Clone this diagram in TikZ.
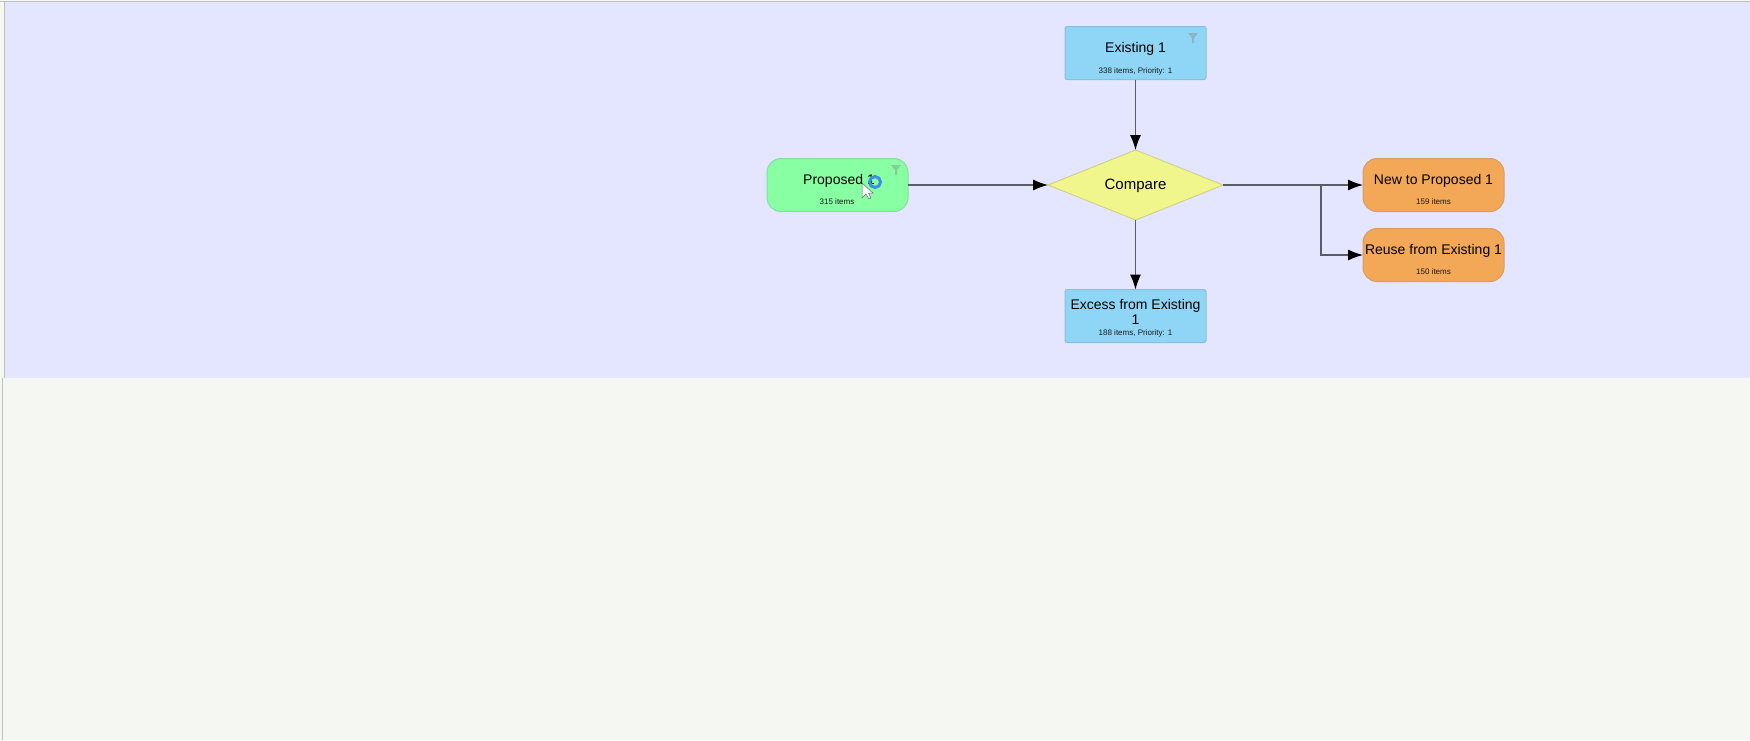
\documentclass[tikz,border=0pt]{standalone}
\usepackage{fontspec}
\setmainfont{Liberation Sans}
\usetikzlibrary{shapes.geometric}
\usetikzlibrary{arrows.meta}
\definecolor{bandlilac}{HTML}{E4E6FF}
\definecolor{pagegrey}{HTML}{F5F7F2}
\definecolor{existblue}{HTML}{8FD6F6}
\definecolor{propgreen}{HTML}{88FFA3}
\definecolor{outorange}{HTML}{F3A857}
\definecolor{cmpyellow}{HTML}{F1F68C}
\definecolor{flowgrey}{HTML}{5A5D66}
\definecolor{spinblue}{HTML}{3E8FE3}
\tikzset{
  titletext/.style={font=\fontsize{14}{15}\selectfont},
  subtext/.style={font=\fontsize{8}{9}\selectfont, text=black!90},
  databox/.style={draw=#1!75!gray, fill=#1, line width=1pt, outer sep=0pt, minimum width=141pt, minimum height=53pt, inner sep=0pt},
  existbox/.style={databox=existblue, rounded corners=2pt},
  roundbox/.style={databox=#1, rounded corners=14pt},
  flow/.style={draw=flowgrey, line width=1.1pt, -{Latex[length=15pt,width=11pt,color=black]}},
  funnel/.style={fill=#1!60!gray, draw=none},
}
\begin{document}
\begin{tikzpicture}[x=1pt,y=-1pt]
  \useasboundingbox (0,0) rectangle (1750,740);
  \fill[pagegrey] (0,0) rectangle (1750,740);
  \fill[bandlilac] (5,2) rectangle (1750,378);
  \draw[gray!50, line width=1pt] (0,1) -- (1750,1);
  \draw[gray!50, line width=1pt] (4.5,2) -- (4.5,378);
  \draw[gray!50, line width=1pt] (2.5,378) -- (2.5,740);

  \node[existbox] (existing) at (1135.5,53) {};
  \node[roundbox=propgreen] (proposed) at (837.5,185) {};
  \node[diamond, aspect=2.5, draw=cmpyellow!70!gray, fill=cmpyellow, line width=1pt, outer sep=0pt, minimum width=175pt, minimum height=70pt, inner sep=0pt] (compare) at (1135.5,185) {};
  \node[roundbox=outorange] (newprop) at (1433.5,185) {};
  \node[roundbox=outorange] (reuse) at (1433.5,255) {};
  \node[existbox] (excess) at (1135.5,316) {};
  \coordinate (branch) at (1321,185);

  % labels
  \node[titletext] (existingT) at (1135.5,49) {Existing 1};
  \node[subtext] (existingS) at (1135.5,71) {338 items, Priority: 1};
  \node[titletext] (proposedT) at (839,180.5) {Proposed 1};
  \node[subtext] (proposedS) at (837,202) {315 items};
  \node[font=\fontsize{15}{16}\selectfont] (compareT) at (1135.5,186) {Compare};
  \node[titletext] (newpropT) at (1433.5,180.5) {New to Proposed 1};
  \node[subtext] (newpropS) at (1433.5,202) {159 items};
  \node[titletext] (reuseT) at (1433.5,250.5) {Reuse from Existing 1};
  \node[subtext] (reuseS) at (1433.5,272) {150 items};
  \node[titletext, align=center] (excessT) at (1135.5,311.5) {Excess from Existing\\1};
  \node[subtext] (excessS) at (1135.5,333) {188 items, Priority: 1};

  % connectors
  \draw[flow] (existing) -- (compare);
  \draw[flow] (proposed) -- (compare);
  \draw[flow] (compare) -- (excess);
  \draw[flow] (compare) -- (newprop);
  \draw[flow] (branch) |- (reuse);

  % filter icons
  \fill[funnel=existblue] (1188,33) -- (1198,33) -- (1194,38) -- (1194,43) -- (1192,43) -- (1192,38) -- cycle;
  \fill[funnel=propgreen] (891,165) -- (901,165) -- (897,170) -- (897,175) -- (895,175) -- (895,170) -- cycle;

  % busy cursor
  \draw[spinblue, line width=3pt] (875,182) circle[radius=5.5];
  \draw[black!60, fill=white, line width=.5pt] (862,183) -- (862,198) -- (866,194) -- (869,199) -- (871,198) -- (868.5,193) -- (873,193) -- cycle;
\end{tikzpicture}
\end{document}
